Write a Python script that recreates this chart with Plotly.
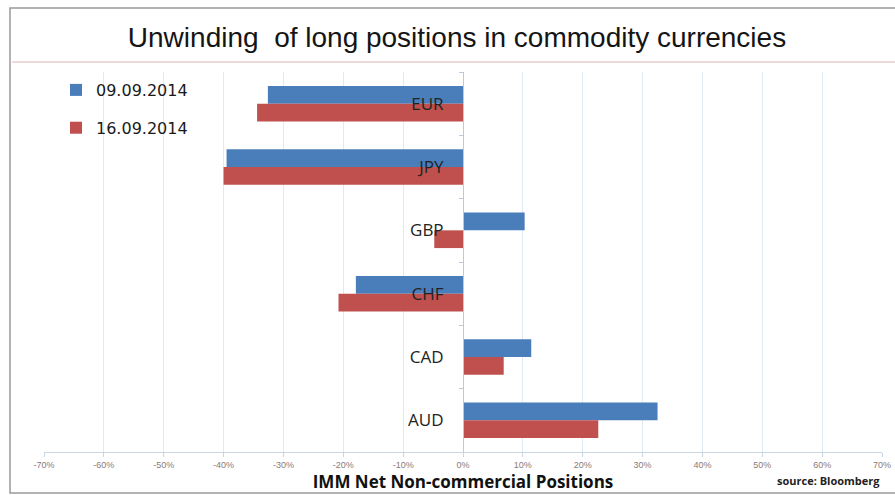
import plotly.graph_objects as go

currencies = ["EUR", "JPY", "GBP", "CHF", "CAD", "AUD"]
pos_0909 = [-32.6, -39.5, 10.3, -17.9, 11.4, 32.5]
pos_1609 = [-34.4, -40.0, -4.8, -20.8, 6.8, 22.6]
series_names = ["09.09.2014", "16.09.2014"]
x_ticks = list(range(-70, 71, 10))
x_ticktext = [f"{v}%" for v in x_ticks]

W, H = 895, 495
L, R, T, B = 44, 13, 72, 43
PW, PH = W - L - R, H - T - B

fig = go.Figure()
fig.add_trace(go.Bar(y=currencies, x=pos_0909, orientation="h", name=series_names[0],
                     marker=dict(color="#4a7ebb", line=dict(width=0)), legendgroup="a"))
fig.add_trace(go.Bar(y=currencies, x=pos_1609, orientation="h", name=series_names[1],
                     marker=dict(color="#c0504d", line=dict(width=0)), legendgroup="b"))

def fx(x):
    return (x - L) / PW

def fy(y):
    return (H - B - y) / PH

shapes = [
    dict(type="rect", xref="paper", yref="paper",
         x0=fx(10), x1=fx(W + 5), y0=fy(493), y1=fy(8),
         line=dict(color="#9a9a9a", width=1.5), layer="below"),
    dict(type="line", xref="paper", yref="paper",
         x0=fx(12), x1=fx(W + 5), y0=fy(62), y1=fy(62),
         line=dict(color="#e6cccc", width=1.5), layer="below"),
]

fig.update_layout(
    width=W, height=H,
    margin=dict(l=L, r=R, t=T, b=B, pad=0, autoexpand=False),
    paper_bgcolor="#ffffff", plot_bgcolor="#ffffff",
    barmode="group", bargap=0.44, bargroupgap=0,
    title=dict(text="Unwinding&nbsp; of long positions in commodity currencies",
               x=457 / W, xanchor="center", y=1 - 37 / H, yanchor="middle",
               font=dict(family="Liberation Sans, Arial, sans-serif",
                         size=28, color="#151515")),
    showlegend=True,
    legend=dict(x=fx(56), y=fy(73),
                xanchor="left", yanchor="top",
                traceorder="grouped", tracegroupgap=14,
                bgcolor="rgba(0,0,0,0)",
                font=dict(family="DejaVu Sans, sans-serif", size=16, color="#1a1a1a"),
                itemwidth=30),
    xaxis=dict(range=[-70, 70], tickvals=x_ticks, ticktext=x_ticktext,
               automargin=False,
               showgrid=True, gridcolor="#e1eaf3", gridwidth=1,
               zeroline=False, showline=True, linecolor="#c9d6e4", linewidth=1,
               ticks="outside", ticklen=4, tickcolor="#c9d6e4",
               tickfont=dict(family="Liberation Sans, sans-serif", size=9, color="#8a7a7a"),
               title=dict(text="<b>IMM Net Non-commercial Positions</b>", standoff=4,
                          font=dict(family="Open Sans, Liberation Sans, sans-serif", size=17, color="#111111")),
               fixedrange=True),
    yaxis=dict(categoryorder="array", categoryarray=currencies, autorange="reversed",
               anchor="free", position=0.5, automargin=False,
               showline=True, linecolor="#b9cadc", linewidth=1,
               ticks="outside", ticklen=4, tickcolor="#b9cadc", tickson="boundaries",
               ticklabelstandoff=16,
               showgrid=False, zeroline=False,
               tickfont=dict(family="Open Sans, Liberation Sans, sans-serif", size=17, color="#222222"),
               fixedrange=True),
    shapes=shapes,
    annotations=[dict(text="<b>source: Bloomberg</b>", xref="paper", yref="paper",
                      x=fx(828), y=fy(481),
                      xanchor="center", yanchor="middle", showarrow=False,
                      font=dict(family="Open Sans, Liberation Sans, sans-serif", size=11, color="#222222"))],
)

fig.write_html("out.html")
